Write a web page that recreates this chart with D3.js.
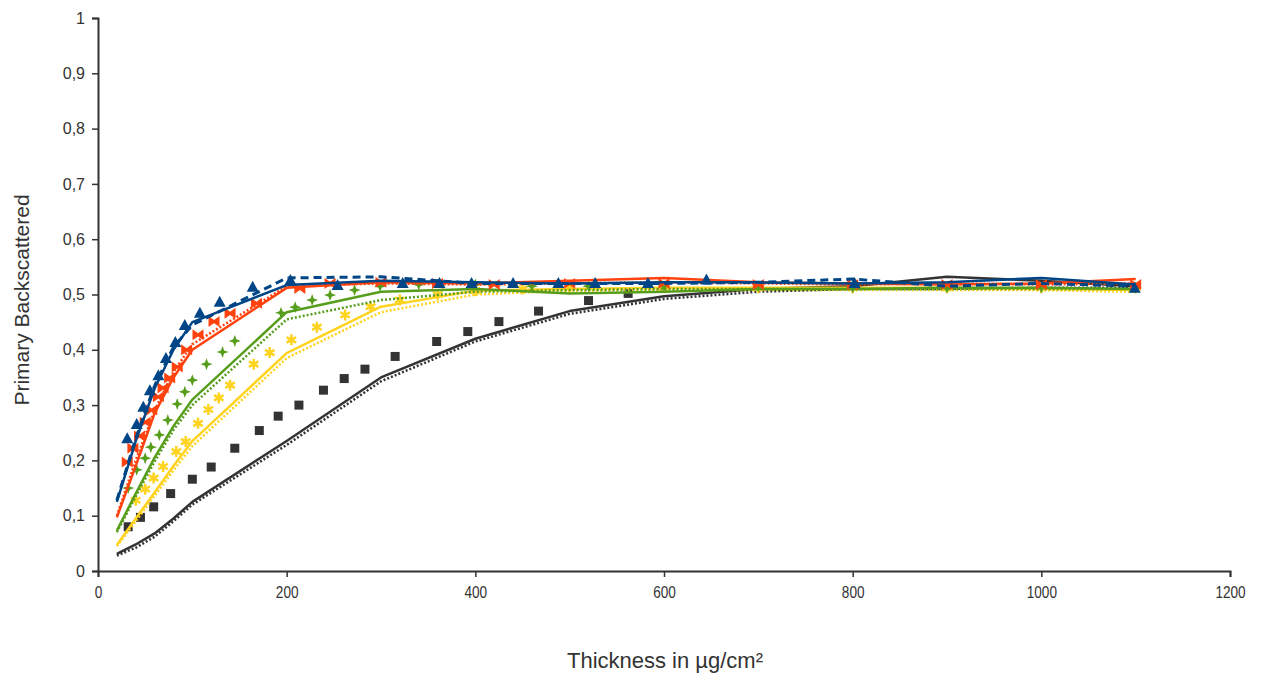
<!DOCTYPE html>
<html>
<head>
<meta charset="utf-8">
<script src="https://cdn.jsdelivr.net/npm/d3@7"></script>
<style>
  html, body { margin: 0; padding: 0; background: #ffffff; }
  svg { display: block; }
  text { font-family: "Liberation Sans", Arial, sans-serif; fill: #333333; }
</style>
</head>
<body>
<svg id="chart" width="1261" height="677"></svg>
<script>
// ---------------- data ----------------
const xTicks = [0, 200, 400, 600, 800, 1000, 1200];
const yTicks = [0, 0.1, 0.2, 0.3, 0.4, 0.5, 0.6, 0.7, 0.8, 0.9, 1];

// thickness grid of the model curves (µg/cm²)
const modelT = [20, 40, 60, 80, 100, 200, 300, 400, 500, 600, 700, 800, 900, 1000, 1100];

const blackSolid  = [0.031, 0.048, 0.068, 0.095, 0.125, 0.235, 0.350, 0.420, 0.470, 0.497, 0.510, 0.515, 0.532, 0.525, 0.515];
const blackDotted = [0.028, 0.042, 0.062, 0.090, 0.120, 0.228, 0.343, 0.415, 0.465, 0.492, 0.505, 0.510, 0.510, 0.512, 0.512];
const yellowSolid  = [0.047, 0.095, 0.142, 0.190, 0.235, 0.394, 0.478, 0.507, 0.510, 0.512, 0.512, 0.512, 0.512, 0.510, 0.508];
const yellowDotted = [0.045, 0.090, 0.136, 0.182, 0.226, 0.385, 0.468, 0.500, 0.507, 0.508, 0.508, 0.508, 0.508, 0.508, 0.505];
const greenSolid  = [0.073, 0.140, 0.205, 0.262, 0.310, 0.468, 0.505, 0.510, 0.502, 0.505, 0.510, 0.510, 0.512, 0.512, 0.510];
const greenDotted = [0.070, 0.135, 0.198, 0.255, 0.300, 0.455, 0.490, 0.505, 0.508, 0.510, 0.510, 0.510, 0.510, 0.510, 0.510];
const redSolid  = [0.097, 0.190, 0.285, 0.350, 0.400, 0.512, 0.522, 0.520, 0.525, 0.530, 0.522, 0.520, 0.518, 0.520, 0.528];
const redDashed = [0.100, 0.200, 0.290, 0.360, 0.410, 0.515, 0.520, 0.518, 0.520, 0.522, 0.520, 0.518, 0.520, 0.518, 0.520];
const blueSolid  = [0.125, 0.235, 0.330, 0.400, 0.450, 0.517, 0.525, 0.522, 0.520, 0.522, 0.522, 0.520, 0.522, 0.530, 0.518];
const blueDashed = [0.128, 0.240, 0.335, 0.405, 0.445, 0.530, 0.532, 0.520, 0.520, 0.520, 0.522, 0.528, 0.515, 0.520, 0.515];

// measured points
const blackT = [32, 45, 59, 77, 100, 120, 145, 171, 191, 213, 239, 261, 283, 315, 359, 392, 425, 467, 520, 562];
const blackV = [0.080, 0.097, 0.116, 0.140, 0.166, 0.188, 0.222, 0.254, 0.280, 0.300, 0.327, 0.348, 0.365, 0.388, 0.415, 0.433, 0.451, 0.470, 0.489, 0.502];
const yellowT = [40, 50, 59, 69, 83, 93, 106, 117, 128, 140, 165, 182, 205, 232, 262, 289, 320, 360, 400, 450, 500, 600, 700, 800, 900, 1000, 1100];
const yellowV = [0.128, 0.148, 0.168, 0.189, 0.216, 0.234, 0.267, 0.292, 0.313, 0.336, 0.374, 0.395, 0.418, 0.441, 0.463, 0.478, 0.490, 0.500, 0.507, 0.510, 0.512, 0.512, 0.512, 0.512, 0.512, 0.512, 0.512];
const greenT = [32, 41, 50, 56, 65, 74, 84, 92, 100, 115, 132, 145, 194, 209, 227, 246, 272, 299, 340, 400, 460, 520, 600, 700, 800, 900, 1000, 1100];
const greenV = [0.150, 0.183, 0.204, 0.224, 0.246, 0.273, 0.302, 0.324, 0.345, 0.374, 0.396, 0.416, 0.467, 0.477, 0.490, 0.499, 0.508, 0.515, 0.518, 0.518, 0.515, 0.515, 0.515, 0.515, 0.512, 0.512, 0.512, 0.512];
const redT = [31, 37, 44, 50, 57, 64, 69, 76, 84, 94, 106, 123, 140, 168, 214, 246, 300, 360, 420, 500, 600, 700, 800, 900, 1000, 1100];
const redV = [0.197, 0.222, 0.244, 0.269, 0.291, 0.315, 0.331, 0.349, 0.369, 0.400, 0.427, 0.451, 0.466, 0.484, 0.511, 0.520, 0.522, 0.520, 0.518, 0.520, 0.520, 0.518, 0.518, 0.518, 0.518, 0.518];
const blueT = [31, 41, 48, 55, 64, 72, 82, 92, 108, 129, 164, 204, 254, 323, 362, 396, 440, 488, 527, 583, 645, 802, 1099];
const blueV = [0.240, 0.266, 0.297, 0.327, 0.354, 0.385, 0.414, 0.445, 0.467, 0.487, 0.514, 0.526, 0.517, 0.521, 0.521, 0.521, 0.521, 0.521, 0.521, 0.521, 0.527, 0.521, 0.512];

const xTitle = "Thickness in µg/cm²";
const yTitle = "Primary Backscattered";

// ---------------- drawing ----------------
const svg = d3.select("#chart");
const x = d3.scaleLinear().domain([0, 1200]).range([98, 1230]);
const y = d3.scaleLinear().domain([0, 1]).range([571, 18]);

const fmt = d => (d === 0 || d === 1) ? String(d) : d3.format(".1f")(d).replace(".", ",");

const axisColor = "#333333";

// y axis
const gy = svg.append("g").attr("transform", "translate(98,0)")
  .call(d3.axisLeft(y).tickValues(yTicks).tickFormat(fmt).tickSize(6).tickPadding(7));
gy.select(".domain").attr("stroke", axisColor).attr("stroke-width", 2);
gy.selectAll(".tick line").attr("stroke", axisColor).attr("stroke-width", 1.5);
gy.selectAll(".tick text").attr("font-size", 16).attr("fill", axisColor)
  .attr("font-family", "'Liberation Sans', Arial, sans-serif");

// x axis
const gx = svg.append("g").attr("transform", "translate(0,571)")
  .call(d3.axisBottom(x).tickValues(xTicks).tickFormat(d3.format("d")).tickSize(6).tickPadding(10));
gx.select(".domain").attr("stroke", axisColor).attr("stroke-width", 2);
gx.selectAll(".tick line").attr("stroke", axisColor).attr("stroke-width", 1.5);
gx.selectAll(".tick text").attr("font-size", 16).attr("fill", axisColor)
  .attr("font-family", "'Liberation Sans', Arial, sans-serif")
  .attr("transform", "scale(0.85,1)");

// titles
svg.append("text").attr("x", 665).attr("y", 668).attr("text-anchor", "middle")
  .attr("font-size", 22).text(xTitle);
svg.append("text").attr("transform", "translate(29,300) rotate(-90)").attr("text-anchor", "middle")
  .attr("font-size", 21).text(yTitle);

// marker shapes
const r = 5.5;
const shapes = {
  square: `M${-4.5},${-4.5}h9v9h-9Z`,
  triangle: `M0,${-6}L${6},${5}L${-6},${5}Z`,
  bowtie: `M${-r},${-r}L0,${-r * 0.3}L${r},${-r}L${r},${r}L0,${r * 0.3}L${-r},${r}Z`,
  star4: `M0,${-6}L1.6,-1.6L6,0L1.6,1.6L0,6L-1.6,1.6L-6,0L-1.6,-1.6Z`,
  asterisk: (() => {
    let p = "";
    for (let i = 0; i < 3; i++) {
      const a = Math.PI / 2 + i * Math.PI / 3;
      const dx = 5.5 * Math.cos(a), dy = 5.5 * Math.sin(a);
      p += `M${dx.toFixed(2)},${dy.toFixed(2)}L${(-dx).toFixed(2)},${(-dy).toFixed(2)}`;
    }
    return p;
  })()
};

const line = d3.line().x(d => x(d[0])).y(d => y(d[1]));

const series = [
  { color: "#333333", solid: blackSolid, second: blackDotted, dash: "2,2", secW: 2.5, mt: blackT, mv: blackV, shape: "square" },
  { color: "#ffd320", solid: yellowSolid, second: yellowDotted, dash: "2,2", secW: 2.5, mt: yellowT, mv: yellowV, shape: "asterisk" },
  { color: "#579d1c", solid: greenSolid, second: greenDotted, dash: "2,2", secW: 2.5, mt: greenT, mv: greenV, shape: "star4" },
  { color: "#ff420e", solid: redSolid, second: redDashed, dash: "2,2", secW: 2.5, mt: redT, mv: redV, shape: "bowtie" },
  { color: "#004586", solid: blueSolid, second: blueDashed, dash: "8,5", secW: 3, mt: blueT, mv: blueV, shape: "triangle" }
];

const plot = svg.append("g");
series.forEach(s => {
  const g = plot.append("g");
  g.append("path").attr("d", line(modelT.map((t, i) => [t, s.second[i]])))
    .attr("fill", "none").attr("stroke", s.color).attr("stroke-width", s.secW)
    .attr("stroke-dasharray", s.dash);
  g.append("path").attr("d", line(modelT.map((t, i) => [t, s.solid[i]])))
    .attr("fill", "none").attr("stroke", s.color).attr("stroke-width", 2.5)
    .attr("stroke-linejoin", "round");
  const pts = s.mt.map((t, i) => [t, s.mv[i]]);
  g.selectAll("path.m").data(pts).enter().append("path").attr("class", "m")
    .attr("transform", d => `translate(${x(d[0])},${y(d[1])})`)
    .attr("d", shapes[s.shape])
    .attr("fill", s.shape === "asterisk" ? "none" : s.color)
    .attr("stroke", s.shape === "asterisk" ? s.color : "none")
    .attr("stroke-width", s.shape === "asterisk" ? 2.5 : 0);
});
</script>
</body>
</html>
